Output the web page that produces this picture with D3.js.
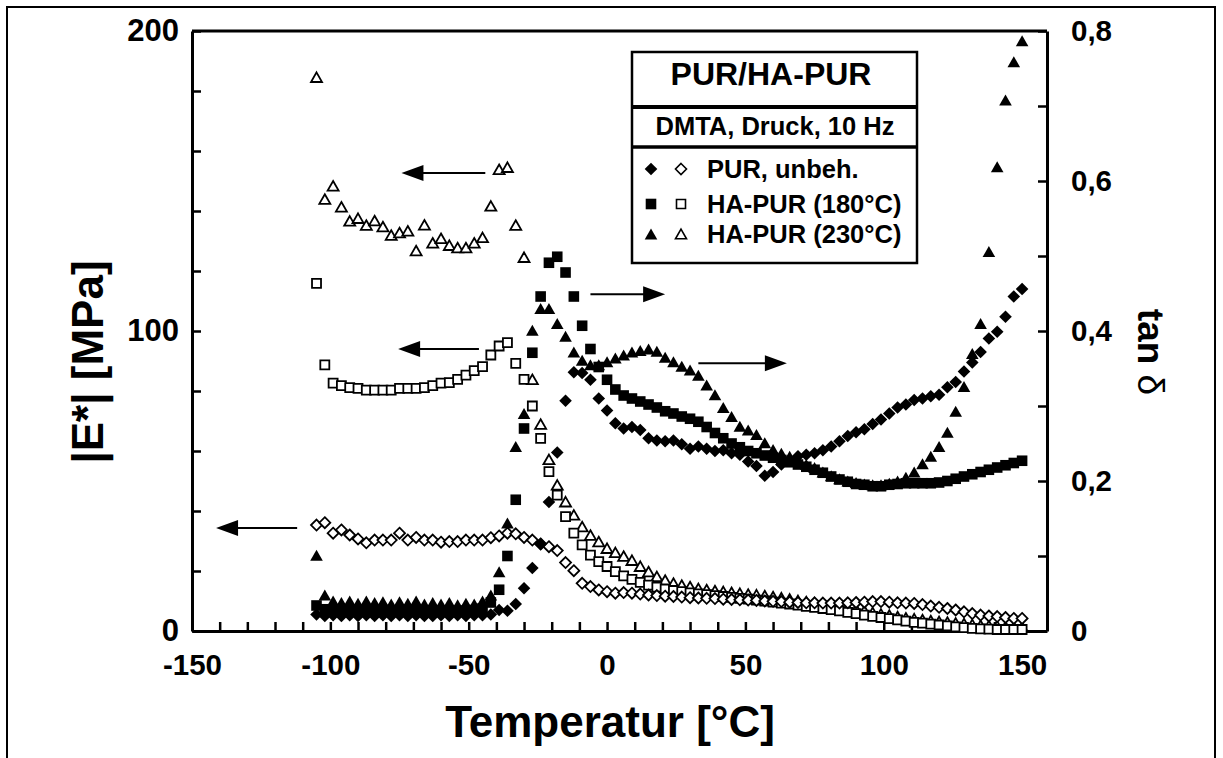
<!DOCTYPE html>
<html>
<head>
<meta charset="utf-8">
<script src="https://cdn.jsdelivr.net/npm/d3@7"></script>
<style>
  html, body { margin: 0; padding: 0; background: #fff; }
  svg { display: block; }
  text { font-family: "Liberation Sans", Arial, Helvetica, sans-serif; font-weight: bold; fill: #000; }
</style>
</head>
<body>
<svg id="chart" width="1223" height="758"></svg>
<script>
// ---------------- DATA ----------------
const temps = [
  -105,-102,-99,-96,-93,-90,-87,-84,-81,-78,
  -75,-72,-69,-66,-63,-60,-57,-54,-51,-48,
  -45,-42,-39,-36,-33,-30,-27,-24,-21,-18,
  -15,-12,-9,-6,-3,0,3,6,9,12,
  15,18,21,24,27,30,33,36,39,42,
  45,48,51,54,57,60,63,66,69,72,
  75,78,81,84,87,90,93,96,99,102,
  105,108,111,114,117,120,123,126,129,132,
  135,138,141,144,147,150
];

// |E*| [MPa] (left axis) - open symbols
const ePUR = [
  35.3,36.1,32.6,33.7,32,30.7,29.4,30.3,30.3,30.3,
  32.6,30.3,31.2,30.3,30.3,29.6,29.8,29.8,30.3,30.3,
  30.3,31.1,31.7,32.6,32.4,31.2,30.3,29,28.1,26.8,
  22.8,20.1,15.9,14.8,13.7,13.1,12.6,12.8,12.6,12.3,
  12,11.8,11.6,11.5,11.3,11.1,11,10.9,10.8,10.6,
  10.5,10.4,10.3,10.2,10,9.9,9.8,9.6,9.5,9.4,
  9.4,9.3,9.3,9.3,9.4,9.5,9.6,9.8,9.8,9.6,
  9.4,9.3,9.2,8.8,8.3,7.9,7.5,7,6.4,5.8,
  5.3,5,4.8,4.5,4.2,4.2
];
const eHA180 = [
  115.9,88.7,82.6,81.8,81.1,80.9,80.3,80.3,80.3,80.3,
  80.9,80.9,80.9,81.1,81.8,82.6,82.8,83.9,85.3,86.8,
  88.1,92,95,96.1,89.2,83.9,75,64.2,53.1,45.3,
  38.1,32.6,28.7,25.3,23.1,21.5,19.8,18.4,17.2,16.2,
  15.3,14.6,14,13.5,13.1,12.7,12.4,12.1,11.8,11.5,
  11.2,10.9,10.6,10.3,10,9.6,9.3,9,8.6,8.2,
  7.9,7.5,7.1,6.7,6.2,5.8,5.3,4.9,4.5,4.1,
  3.7,3.3,2.9,2.6,2.3,2,1.7,1.4,1.1,0.9,
  0.7,0.6,0.5,0.5,0.5,0.5
];
const eHA230 = [
  184.6,144,148.4,141.4,136.7,137.6,135.3,136.8,134.8,132,
  132.8,133.4,126.8,135.4,129.4,130.9,128.6,127.8,127.8,129.4,
  131.2,141.7,153.9,154.6,135.3,124.6,83.9,69,57.2,48.7,
  43.1,38.7,34.8,32,29.8,27.6,26.2,25,23.6,21.6,
  19.8,18.2,17,16,15.3,14.8,14.2,13.8,13.5,13.2,
  12.9,12.6,12.3,12.1,11.8,11.5,11.1,10.7,10.2,9.8,
  9.4,9,8.6,8.2,7.7,7.3,6.8,6.2,5.7,5.3,
  4.8,4.4,4.1,3.8,3.5,3.2,3,2.7,2.5,2.2,
  1.9,1.8,1.7,1.5,1.4,1.4
];

// tan delta (right axis) - filled symbols
const tPUR = [
  0.022,0.020,0.021,0.020,0.021,0.020,0.021,0.020,0.021,0.020,
  0.021,0.020,0.021,0.020,0.020,0.021,0.020,0.021,0.020,0.021,
  0.021,0.022,0.028,0.027,0.036,0.057,0.084,0.116,0.172,0.238,
  0.307,0.345,0.344,0.335,0.31,0.294,0.277,0.27,0.272,0.268,
  0.257,0.254,0.253,0.254,0.249,0.243,0.246,0.243,0.24,0.241,
  0.237,0.235,0.226,0.22,0.207,0.212,0.222,0.228,0.233,0.235,
  0.237,0.241,0.246,0.253,0.26,0.265,0.269,0.276,0.282,0.29,
  0.298,0.302,0.308,0.31,0.313,0.315,0.325,0.332,0.346,0.358,
  0.372,0.39,0.399,0.419,0.446,0.456
];
const tHA180 = [
  0.034,0.029,0.028,0.028,0.027,0.028,0.027,0.027,0.028,0.027,
  0.027,0.028,0.027,0.027,0.026,0.027,0.026,0.027,0.027,0.028,
  0.030,0.038,0.055,0.1,0.175,0.27,0.371,0.446,0.491,0.499,
  0.478,0.446,0.407,0.376,0.352,0.335,0.322,0.314,0.31,0.306,
  0.302,0.298,0.293,0.29,0.286,0.283,0.279,0.272,0.264,0.257,
  0.25,0.245,0.24,0.237,0.234,0.231,0.228,0.225,0.222,0.219,
  0.215,0.211,0.206,0.202,0.199,0.196,0.195,0.193,0.193,0.195,
  0.196,0.197,0.197,0.197,0.197,0.198,0.2,0.203,0.206,0.209,
  0.212,0.215,0.218,0.221,0.224,0.227
];
const tHA230 = [
  0.101,0.048,0.040,0.038,0.040,0.037,0.040,0.038,0.039,0.036,
  0.039,0.037,0.040,0.036,0.038,0.036,0.038,0.035,0.037,0.036,
  0.040,0.048,0.079,0.144,0.246,0.29,0.401,0.43,0.43,0.41,
  0.393,0.372,0.361,0.355,0.355,0.359,0.364,0.368,0.372,0.374,
  0.376,0.373,0.365,0.359,0.353,0.348,0.341,0.328,0.315,0.298,
  0.286,0.273,0.268,0.262,0.251,0.242,0.237,0.233,0.228,0.222,
  0.218,0.212,0.207,0.203,0.2,0.198,0.196,0.195,0.195,0.197,
  0.2,0.205,0.212,0.223,0.233,0.246,0.265,0.293,0.326,0.37,
  0.41,0.506,0.619,0.708,0.759,0.787
];

const xLabelTicks = [-150,-100,-50,0,50,100,150];
const yLeftLabelTicks = [0,100,200];
const yRightTicks = [0,0.1,0.2,0.3,0.4,0.5,0.6,0.7,0.8];
const yRightLabels = ["0","","0,2","","0,4","","0,6","","0,8"];

const legendTitle = "PUR/HA-PUR";
const legendSubtitle = "DMTA, Druck, 10 Hz";
const legendNames = ["PUR, unbeh.", "HA-PUR (180°C)", "HA-PUR (230°C)"];
const legendShapes = ["diamond", "square", "triangle"];

// arrows: [fromT, toT, value, axis]
const arrowFrom = [-44, -46.3, -112, -6, 33];
const arrowTo   = [-74.3, -75.5, -141.3, 21, 65];
const arrowVal  = [152.7, 94, 34.3, 0.449, 0.357];
const arrowAxis = ["left", "left", "left", "right", "right"];

// ---------------- CHART ----------------
const svg = d3.select("#chart");
const X0 = 192, X1 = 1047, Y0 = 631, Y1 = 31;

const x = d3.scaleLinear().domain([-150, 159]).range([X0, X1]);
const yL = d3.scaleLinear().domain([0, 200]).range([Y0, Y1]);
const yR = d3.scaleLinear().domain([0, 0.8]).range([Y0, Y1]);

// outer frame
svg.append("rect").attr("x", 7).attr("y", 7).attr("width", 1208).attr("height", 800)
  .attr("fill", "none").attr("stroke", "#000").attr("stroke-width", 2);

// plot frame (top line)
svg.append("line").attr("x1", X0).attr("x2", X1).attr("y1", Y1).attr("y2", Y1)
  .attr("stroke", "#000").attr("stroke-width", 3);

function styleAxis(g, fs) {
  g.select(".domain").attr("stroke", "#000").attr("stroke-width", 3);
  g.selectAll(".tick line").attr("stroke", "#000").attr("stroke-width", 2.5);
  g.selectAll(".tick text").style("font-size", fs + "px").style("font-weight", "bold")
    .style("font-family", '"Liberation Sans", Arial, sans-serif').attr("fill", "#000");
}

const xAxis = d3.axisBottom(x)
  .tickValues(d3.range(-150, 151, 10))
  .tickSize(-9).tickSizeOuter(0).tickPadding(23)
  .tickFormat(d => (xLabelTicks.includes(d) ? d : ""));
svg.append("g").attr("transform", `translate(0,${Y0})`).call(xAxis).call(g => styleAxis(g, 29.5));

const yAxisL = d3.axisLeft(yL)
  .tickValues(d3.range(0, 201, 20))
  .tickSize(-9).tickSizeOuter(0).tickPadding(13)
  .tickFormat(d => (yLeftLabelTicks.includes(d) ? d : ""));
svg.append("g").attr("transform", `translate(${X0},0)`).call(yAxisL).call(g => styleAxis(g, 31));

const yAxisR = d3.axisRight(yR)
  .tickValues(yRightTicks)
  .tickSize(-9).tickSizeOuter(0).tickPadding(24)
  .tickFormat((d, i) => yRightLabels[i]);
svg.append("g").attr("transform", `translate(${X1},0)`).call(yAxisR).call(g => styleAxis(g, 29.5));

// axis titles
svg.append("text").attr("x", 610).attr("y", 737)
  .attr("text-anchor", "middle").style("font-size", "44px").text("Temperatur [°C]");

svg.append("text").attr("transform", "translate(103,362) rotate(-90)")
  .attr("text-anchor", "middle").style("font-size", "44px").text("|E*| [MPa]");

const tanT = svg.append("text").attr("transform", "translate(1138,352) rotate(90)")
  .attr("text-anchor", "middle").style("font-size", "37px");
tanT.append("tspan").text("tan ");
tanT.append("tspan").style("font-weight", "normal").text("δ");

// symbols
function shapePath(type, open) {
  const d = open ? 0.8 : 0;
  if (type === "square") { const h = 5.3 - d; return `M${-h},${-h}H${h}V${h}H${-h}Z`; }
  if (type === "triangle") { const w = 6.3 - d, t = 5.6 - d; return `M0,${-t}L${w},${t}L${-w},${t}Z`; }
  const r = 6.3 - d; return `M0,${-r}L${r},0L0,${r}L${-r},0Z`;
}

function drawSeries(values, yScale, type, open) {
  const pts = temps.map((t, i) => ({ t, v: values[i] })).filter(p => p.v != null);
  svg.append("g").selectAll("path").data(pts).join("path")
    .attr("transform", p => `translate(${x(p.t)},${yScale(p.v)})`)
    .attr("d", shapePath(type, open))
    .attr("fill", open ? "#fff" : "#000")
    .attr("stroke", "#000")
    .attr("stroke-width", open ? 1.8 : 0);
}

drawSeries(eHA230, yL, "triangle", true);
drawSeries(eHA180, yL, "square", true);
drawSeries(ePUR, yL, "diamond", true);
drawSeries(tHA230, yR, "triangle", false);
drawSeries(tHA180, yR, "square", false);
drawSeries(tPUR, yR, "diamond", false);

// arrows
arrowFrom.forEach((f, i) => {
  const ys = arrowAxis[i] === "left" ? yL : yR;
  const xa = x(f), xb = x(arrowTo[i]), yy = ys(arrowVal[i]);
  const dir = xb < xa ? -1 : 1;
  const headL = 22, headW = 8;
  svg.append("line").attr("x1", xa).attr("x2", xb - dir * headL + dir * 2).attr("y1", yy).attr("y2", yy)
    .attr("stroke", "#000").attr("stroke-width", 2);
  svg.append("path")
    .attr("d", `M${xb},${yy}L${xb - dir * headL},${yy - headW}L${xb - dir * headL},${yy + headW}Z`)
    .attr("fill", "#000");
});

// legend
const LX0 = 632, LX1 = 917, LY0 = 52, LY1 = 263;
const lg = svg.append("g");
lg.append("rect").attr("x", LX0).attr("y", LY0).attr("width", LX1 - LX0).attr("height", LY1 - LY0)
  .attr("fill", "#fff").attr("stroke", "#000").attr("stroke-width", 2.5);
lg.append("line").attr("x1", LX0).attr("x2", LX1).attr("y1", 107).attr("y2", 107)
  .attr("stroke", "#000").attr("stroke-width", 4);
lg.append("line").attr("x1", LX0).attr("x2", LX1).attr("y1", 147).attr("y2", 147)
  .attr("stroke", "#000").attr("stroke-width", 3.5);
lg.append("text").attr("x", 771).attr("y", 85).attr("text-anchor", "middle")
  .style("font-size", "32px").text(legendTitle);
lg.append("text").attr("x", 775).attr("y", 135).attr("text-anchor", "middle")
  .style("font-size", "25.5px").text(legendSubtitle);
const rowY = [169, 204, 234];
legendNames.forEach((n, i) => {
  lg.append("path").attr("transform", `translate(651,${rowY[i]})`)
    .attr("d", shapePath(legendShapes[i], false)).attr("fill", "#000");
  lg.append("path").attr("transform", `translate(681,${rowY[i]})`)
    .attr("d", shapePath(legendShapes[i], true)).attr("fill", "#fff")
    .attr("stroke", "#000").attr("stroke-width", 1.6);
  lg.append("text").attr("x", 707).attr("y", rowY[i] + 9).style("font-size", "25.5px").text(n);
});
</script>
</body>
</html>
